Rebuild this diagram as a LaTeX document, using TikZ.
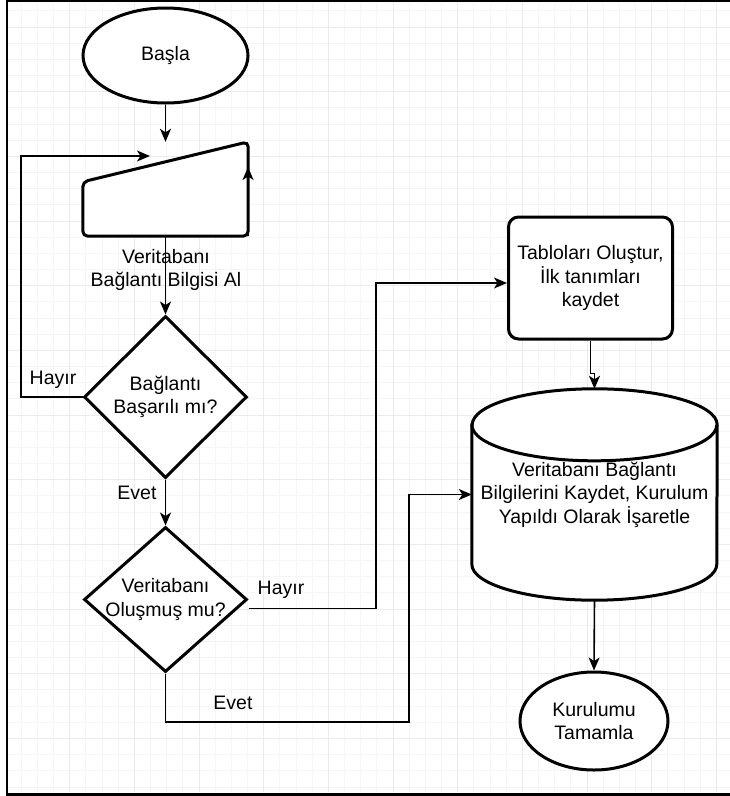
\documentclass[tikz,border=0pt]{standalone}
\usepackage{fontspec}
\setmainfont{Liberation Sans}
\usetikzlibrary{arrows.meta, positioning, shapes.geometric}

\begin{document}
\begin{tikzpicture}[x=1pt, y=1pt, >={Stealth[length=13pt, width=11pt, inset=3.5pt]},
    every node/.style={font=\fontsize{19.5}{23.5}\selectfont, align=center},
    sekil/.style={draw, line width=3pt, fill=white},
    gizli/.style={rectangle, draw=none, inner sep=0pt},
    karar/.style={sekil, diamond, inner sep=0pt},
    baglanti/.style={line width=1.6pt},
    etiket/.style={inner sep=0pt},
    izgara/.style={line width=1pt, black!4},
    anaizgara/.style={line width=1pt, black!8}]
    \useasboundingbox (0,0) rectangle (730,-796);

    % Grid
    \foreach \k in {1,...,44}
        \draw[izgara] ({5+16.17*\k},-2) -- ++(0,-790);
    \foreach \k in {-1,...,47}
        \draw[izgara] (8,{-27-16.17*\k}) -- (730,{-27-16.17*\k});
    \foreach \k in {1,...,11}
        \draw[anaizgara] ({5+64.68*\k},-2) -- ++(0,-790);
    \foreach \k in {0,...,11}
        \draw[anaizgara] (8,{-27-64.68*\k}) -- (730,{-27-64.68*\k});

    % Frame
    \draw[line width=2pt] (730,-1) -- (7,-1) -- (7,-794);
    \draw[line width=3.5pt] (6,-794.5) -- (730,-794.5);

    % Nodes
    \node[sekil, ellipse, inner sep=0pt, minimum width=165pt, minimum height=95pt] (basla) at (165.5,-55.5) {Başla};

    \node[gizli, minimum width=165pt, minimum height=94pt] (girdi) at (165.5,-189) {};
    \draw[sekil, rounded corners=5pt] ([yshift=-40pt]girdi.north west) -- (girdi.north east)
        -- (girdi.south east) -- (girdi.south west) -- cycle;
    \node[etiket] (bilgial) at (166,-270) {Veritabanı\\Bağlantı Bilgisi Al};

    \node[karar, minimum width=163pt, minimum height=162pt,
        label={center:Bağlantı\\Başarılı mı?}] (karar1) at (165.5,-397) {};
    \node[karar, minimum width=163pt, minimum height=145pt,
        label={center:Veritabanı\\Oluşmuş mu?}] (karar2) at (165.5,-599.5) {};

    \node[sekil, rectangle, rounded corners=10pt, minimum width=164pt, minimum height=122pt] (tablo)
        at (590.5,-278) {Tabloları Oluştur,\\İlk tanımları\\kaydet};

    \node[gizli, minimum width=245pt, minimum height=211pt] (kaydet) at (594.5,-494.5) {};
    \draw[sekil] ([yshift=-36pt]kaydet.north west) -- ([yshift=36pt]kaydet.south west)
        arc[start angle=180, end angle=360, x radius=122.5pt, y radius=36pt]
        -- ([yshift=-36pt]kaydet.north east)
        arc[start angle=0, end angle=180, x radius=122.5pt, y radius=36pt] -- cycle;
    \draw[line width=3pt] ([yshift=-36pt]kaydet.north west)
        arc[start angle=180, end angle=360, x radius=122.5pt, y radius=36pt];
    \node[etiket] at (kaydet) {Veritabanı Bağlantı\\Bilgilerini Kaydet, Kurulum\\Yapıldı Olarak İşaretle};

    \node[sekil, ellipse, inner sep=0pt, minimum width=148pt, minimum height=98pt] (bitir)
        at (594,-721) {Kurulumu\\Tamamla};

    % Bend points
    \coordinate (donus) at (21,-300);
    \coordinate (girdiust) at (150,-156);
    \coordinate (sagok) at (248,-167);
    \coordinate (k1) at (376,-450);
    \coordinate (k2) at (409,-722);

    % Arrows
    \draw[baglanti, ->] (basla) -- (girdi.north);
    \draw[baglanti, ->] (girdi.south east) -- (sagok);
    \draw[baglanti, ->] (girdi.south) -- (karar1.north);
    \draw[baglanti, ->] (karar1.west) -| (donus) |- (girdiust);
    \draw[baglanti, ->] (karar1.south) -- (karar2.north);
    \draw[baglanti, ->] ([yshift=-9pt]karar2.east) -| (k1) |- ([yshift=-5pt]tablo.west);
    \draw[baglanti, ->] (karar2.south) |- (k2) |- (kaydet.west);
    \draw[baglanti, ->] (tablo.south) -- ++(0,-33) -| (kaydet.north);
    \draw[baglanti, ->] (kaydet.south) -- (bitir.north);

    % Labels on the arrows
    \node[etiket] (hayir1) at (53,-380) {Hayır};
    \node[etiket] (evet1) at (137,-493) {Evet};
    \node[etiket] (hayir2) at (281,-590) {Hayır};
    \node[etiket] (evet2) at (233,-703) {Evet};
\end{tikzpicture}
\end{document}
